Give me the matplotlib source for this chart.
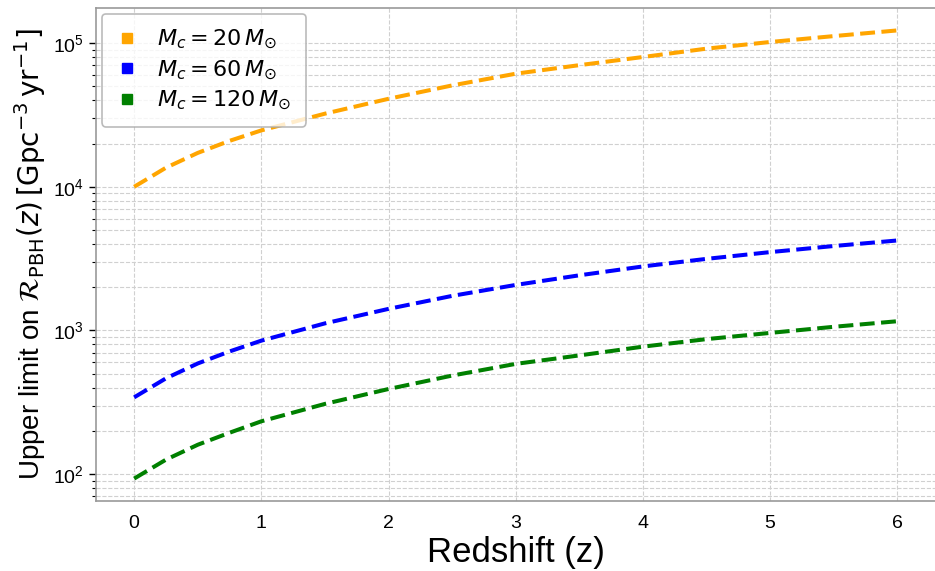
import matplotlib
matplotlib.use("Agg")
import matplotlib.pyplot as plt
from matplotlib.lines import Line2D
import numpy as np

plt.rcParams['font.family'] = ['Liberation Sans', 'DejaVu Sans']
plt.rcParams['mathtext.fontset'] = 'dejavusans'

redshift = [0.0, 0.25, 0.5, 0.75, 1.0, 1.5, 2.0, 2.5, 3.0, 3.5, 4.0, 4.5, 5.0, 5.5, 6.0]
rate_20 = [10000, 13580, 17220, 20890, 24700, 32300, 41000, 50800, 61300, 70300, 80100, 91600, 101900, 112000, 122700]
rate_60 = [342, 464, 589, 714, 849, 1120, 1413, 1740, 2074, 2420, 2790, 3150, 3510, 3870, 4230]
rate_120 = [93, 126, 160, 194, 233, 308, 391, 485, 585, 670, 771, 870, 961, 1060, 1159]
labels = [r'$M_c = 20\,M_{\odot}$', r'$M_c = 60\,M_{\odot}$', r'$M_c = 120\,M_{\odot}$']
colors = ['orange', 'blue', 'green']
xticks = [0, 1, 2, 3, 4, 5, 6]

W, H = 935, 571
fig = plt.figure(figsize=(W / 100, H / 100), dpi=100)
left, right, top, bottom = 96, 935.5, 8, 501
ax = fig.add_axes([left / W, (H - bottom) / H, (right - left) / W, (bottom - top) / H])

for y, c in zip([rate_20, rate_60, rate_120], colors):
    ax.plot(redshift, y, linestyle='--', color=c, linewidth=2.9)

ax.set_yscale('log')
ax.set_xlim(-0.3, 6.3)
ax.set_xticks(xticks)
ax.set_xticklabels([str(t) for t in xticks])

ax.grid(True, which='major', axis='x', linestyle='--', color='#d0d0d0', linewidth=0.8)
ax.grid(True, which='both', axis='y', linestyle='--', color='#d0d0d0', linewidth=0.8)
ax.set_axisbelow(True)

for s in ax.spines.values():
    s.set_color('#999999')
    s.set_linewidth(1.2)

ax.tick_params(axis='x', which='both', length=0, pad=10, labelsize=14)
ax.tick_params(axis='y', which='major', length=5, width=1, color='black', labelsize=14)
ax.tick_params(axis='y', which='minor', length=3, width=0.8, color='black')

ax.set_xlabel('Redshift (z)', fontsize=25, labelpad=3)
ax.set_ylabel(r'Upper limit on $\mathcal{R}_{\rm PBH}(z)\,[{\rm Gpc^{-3}\,yr^{-1}}]$', fontsize=20, labelpad=4)

handles = [Line2D([], [], marker='s', linestyle='', color=c, markersize=7) for c in colors]
leg = ax.legend(handles, labels, loc='upper left', fontsize=16, handlelength=1.0,
                handletextpad=0.85, labelspacing=0.33, borderpad=0.65, borderaxespad=0.25,
                framealpha=0.8, edgecolor='#aaaaaa', fancybox=True)
leg.get_frame().set_linewidth(1.2)

fig.savefig('out.png', dpi=100)
